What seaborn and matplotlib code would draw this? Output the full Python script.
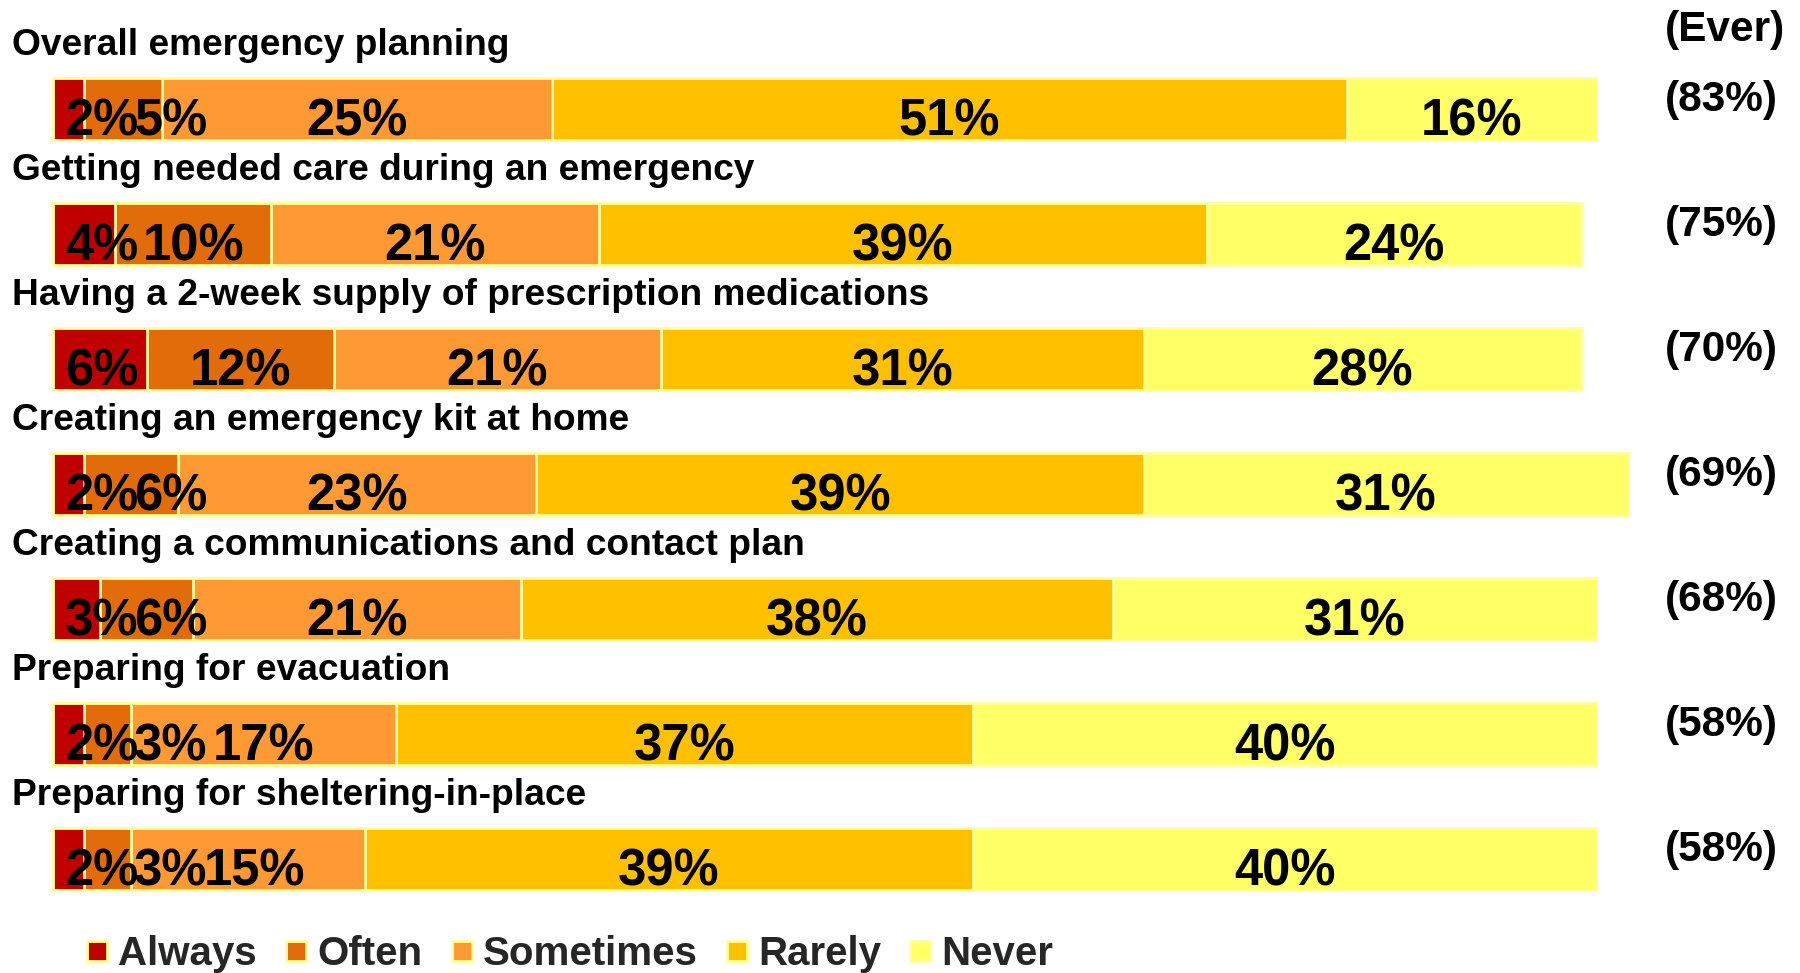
import numpy as np
import pandas as pd
import matplotlib
matplotlib.use("Agg")
import matplotlib.pyplot as plt
from matplotlib.lines import Line2D
from matplotlib import font_manager
import seaborn as sns

categories = [
    "Overall emergency planning",
    "Getting needed care during an emergency",
    "Having a 2-week supply of prescription medications",
    "Creating an emergency kit at home",
    "Creating a communications and contact plan",
    "Preparing for evacuation",
    "Preparing for sheltering-in-place",
]
always = [2, 4, 6, 2, 3, 2, 2]
often = [5, 10, 12, 6, 6, 3, 3]
sometimes = [25, 21, 21, 23, 21, 17, 15]
rarely = [51, 39, 31, 39, 38, 37, 39]
never = [16, 24, 28, 31, 31, 40, 40]
ever = [83, 75, 70, 69, 68, 58, 58]
series_names = ["Always", "Often", "Sometimes", "Rarely", "Never"]
colors = ["#C00000", "#E36C0A", "#FF9933", "#FFC000", "#FFFF66"]
edge_col = "#FFFF99"

sns.set_theme(style="white")
plt.rcParams['font.family'] = ['Liberation Sans', 'DejaVu Sans']

pct_family, pct_size = 'Liberation Sans', 36.5

fig = plt.figure(figsize=(18, 9.73), dpi=100)
ax = fig.add_axes([0, 0, 1, 1])

data = np.array([always, often, sometimes, rarely, never])
cum = np.cumsum(data, axis=0)
df = pd.DataFrame({"category": categories})
for k in range(4, -1, -1):
    d = df.copy()
    d["cum"] = cum[k]
    sns.barplot(data=d, x="cum", y="category", orient="h", color=colors[k],
                saturation=1, width=0.5, edgecolor=edge_col, linewidth=2, ax=ax)

px_per_unit = 15.59
left_px = 53
ax.set_xlim(-left_px / px_per_unit, (1800 - left_px) / px_per_unit)
ax.set_ylim((973 - 109) / 125, -109 / 125)
ax.axis('off')

fig.canvas.draw()
renderer = fig.canvas.get_renderer()
inv = ax.transData.inverted()

for i in range(len(categories)):
    ax.text(-41 / px_per_unit, i - 0.43, categories[i], ha='left', va='baseline',
            fontsize=26.7, fontweight='bold', color='black')
    ax.text(103.4, i - 0.07, f"({ever[i]}%)", ha='left', va='center',
            fontsize=30.5, fontweight='bold', color='black')
    lefts = np.concatenate([[0], cum[:-1, i]])
    min_left = ax.transData.transform((0, 0))[0] + 12
    for k in range(5):
        xc = lefts[k] + data[k, i] / 2
        t = ax.text(xc, i + 0.215, f"{data[k, i]}%", ha='center', va='baseline',
                    fontsize=pct_size, fontweight='bold', family=pct_family, color='black')
        bb = t.get_window_extent(renderer)
        if bb.x0 < min_left:
            shift = min_left - bb.x0
            x_disp = ax.transData.transform((xc, 0))[0] + shift
            t.set_x(inv.transform((x_disp, 0))[0])
            bb = t.get_window_extent(renderer)
        min_left = bb.x1 - 4

ax.text(103.4, -0.63, "(Ever)", ha='left', va='center', fontsize=30.5,
        fontweight='bold', color='black')

handles = [Line2D([], [], marker='s', linestyle='none', markersize=15,
                  markerfacecolor=c, markeredgecolor=edge_col, markeredgewidth=2)
           for c in colors]
fig.legend(handles, series_names, loc='center left', bbox_to_anchor=(86 / 1800, 19 / 973),
           ncol=5, frameon=False, fontsize=29, handlelength=0.55, handletextpad=0.25,
           columnspacing=0.7, borderpad=0, borderaxespad=0,
           prop={'weight': 'bold', 'size': 29})

fig.savefig("out.png", dpi=100)
